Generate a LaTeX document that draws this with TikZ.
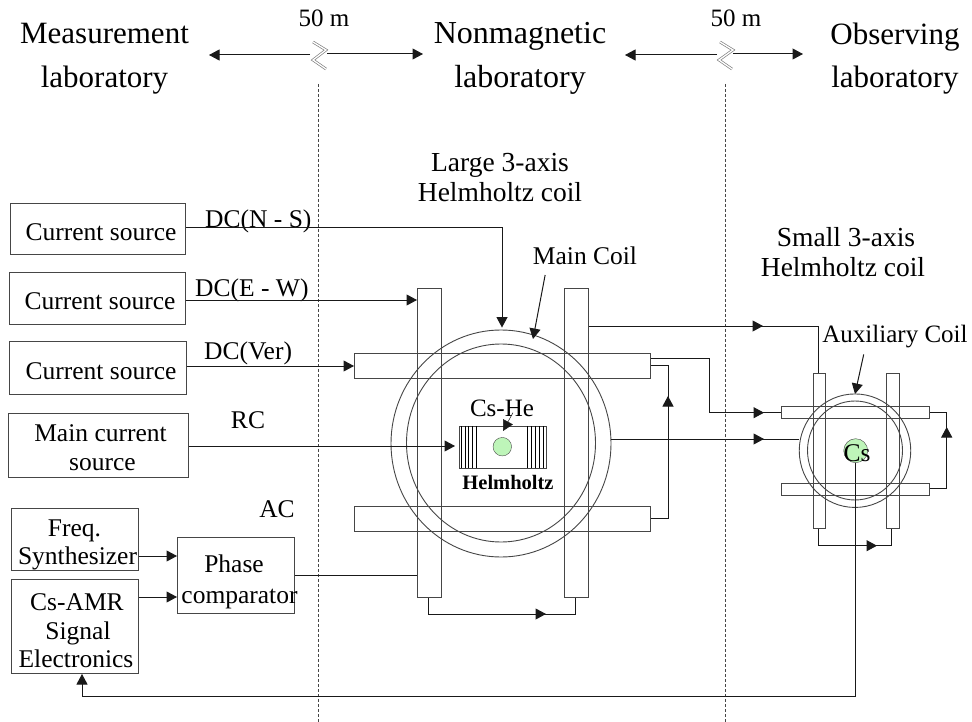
\documentclass[tikz,border=0pt]{standalone}
\usepackage{fontspec}
\setmainfont{Liberation Serif}
\usetikzlibrary{arrows.meta, positioning, shapes.geometric, calc}
\definecolor{linegray}{RGB}{70, 70, 70}
\definecolor{cellgreen}{RGB}{190, 245, 185}
\newcommand{\nudge}[2]{\hspace*{#1}\rule{0pt}{\dimexpr 17.5pt+#2\relax}}
\tikzset{
  x=1pt, y=-1pt,
  box/.style={draw=linegray, line width=1pt, inner sep=0pt, anchor=north west, align=center, font=\fontsize{25.5}{28.5}\selectfont},
  bar/.style={draw=linegray, line width=1pt, inner sep=0pt, anchor=north west},
  coil/.style={ellipse, draw=linegray, line width=0.9pt, inner sep=0pt},
  lbl/.style={inner sep=0pt, align=center, font=\fontsize{25.5}{30}\selectfont},
  biglbl/.style={inner sep=0pt, align=center, font=\fontsize{27.5}{30}\selectfont},
  head/.style={inner sep=0pt, align=center, font=\fontsize{31}{43.5}\selectfont},
  arr/.style={-{Triangle[length=10.5pt, width=11pt]}, line width=1pt, black!90},
  wire/.style={line width=1pt, black!90},
  sep/.style={densely dashed, line width=0.9pt, linegray},
  brk/.style={draw=gray, double=white, double distance=1.3pt, line width=0.7pt}
}
\begin{document}
\begin{tikzpicture}
  \useasboundingbox (0,0) rectangle (972,722);
  % headers
  \node[head] (meas) at (104.5,58.5) {Measurement\\laboratory};
  \node[head, font=\fontsize{32}{43.5}\selectfont] (nonm) at (520,58.5) {Nonmagnetic\\laboratory};
  \node[head] (obs) at (895,58.5) {Observing\\laboratory};
  \node[lbl, font=\fontsize{25}{30}\selectfont] (d1) at (324,18.5) {50 m};
  \node[lbl, font=\fontsize{25}{30}\selectfont] (d2) at (736,18.5) {50 m};
  % separators
  \coordinate (s1a) at (318.7,84); \coordinate (s1b) at (318.7,722);
  \coordinate (s2a) at (725,84); \coordinate (s2b) at (725,722);
  \draw[sep] (s1a) -- (s1b);
  \draw[sep] (s2a) -- (s2b);
  % distance arrows
  \coordinate (m1) at (310,55); \coordinate (m1l) at (209,55);
  \coordinate (m2) at (327,54); \coordinate (m2r) at (423,54);
  \coordinate (m3) at (717,55); \coordinate (m3l) at (625,55);
  \coordinate (m4) at (733,54); \coordinate (m4r) at (803,54);
  \draw[arr] (m1) -- (m1l);
  \draw[arr] (m2) -- (m2r);
  \draw[arr] (m3) -- (m3l);
  \draw[arr] (m4) -- (m4r);
  \draw[brk] (313,42) -- (326,50) -- (313,60) -- (326,69);
  \draw[brk] (720,42) -- (733,50) -- (719,60) -- (732,69);
  % sources
  \node[box, minimum width=175, minimum height=51] (cs1) at (10,203) {\nudge{6pt}{6pt}Current source};
  \node[box, minimum width=176, minimum height=52] (cs2) at (8.5,272) {\nudge{6pt}{4pt}Current source};
  \node[box, minimum width=177, minimum height=53] (cs3) at (8.5,341) {\nudge{7pt}{5pt}Current source};
  \node[box, minimum width=180, minimum height=64] (mcs) at (7.5,413) {\nudge{5pt}{4pt}Main current\\\hspace*{9pt}source};
  \node[box, minimum width=127, minimum height=62] (fs) at (10.5,508) {\nudge{0pt}{10pt}Freq.\\\hspace*{6pt}Synthesizer};
  \node[box, minimum width=127, minimum height=94] (amr) at (10.5,579) {\nudge{5pt}{8pt}Cs-AMR\\\hspace*{7pt}Signal\\\hspace*{3pt}Electronics};
  \node[box, minimum width=117, minimum height=76] (pc) at (177,537) {\nudge{-4pt}{13pt}Phase\\[3pt]\makebox[100pt]{\hspace*{7pt}comparator}};
  % large coil
  \node[coil, minimum width=220, minimum height=227] (lo) at (501,443.5) {};
  \node[coil, minimum width=189, minimum height=198] (li) at (501,443) {};
  \node[bar, minimum width=24, minimum height=309] (lv1) at (417,288) {};
  \node[bar, minimum width=24, minimum height=309] (lv2) at (564,288) {};
  \node[bar, minimum width=296, minimum height=25] (lh1) at (354,353) {};
  \node[bar, minimum width=296, minimum height=25] (lh2) at (354,506) {};
  % cell
  \node[bar, minimum width=87, minimum height=42] (hh) at (459,426) {};
  \foreach \xs in {461,465,468,472,476,527,531,535,539,543}
    \draw[line width=0.7pt] (\xs,426) -- (\xs,468);
  \node[circle, draw=linegray, fill=cellgreen, minimum size=18.5, inner sep=0pt] (cell) at (502.3,446.7) {};
  \node[lbl, font=\fontsize{25}{30}\selectfont] (cshe) at (502,408) {Cs-He};
  \node[inner sep=0pt, font=\fontsize{20.5}{22}\selectfont\bfseries] (hlbl) at (508,482) {Helmholtz};
  \draw[arr, line width=0.5pt] ($(cshe.south)+(11,-4)$) -- (503,431);
  % small coil
  \node[coil, minimum width=111.5, minimum height=113.5] (so) at (855,450.7) {};
  \node[coil, minimum width=95, minimum height=99] (si) at (855,450.5) {};
  \node[bar, minimum width=12.5, minimum height=155] (sv1) at (812.7,373) {};
  \node[bar, minimum width=12.5, minimum height=155] (sv2) at (886,373) {};
  \node[bar, minimum width=148.5, minimum height=12.5] (sh1) at (780.7,405.7) {};
  \node[bar, minimum width=148.5, minimum height=12] (sh2) at (780.7,482.7) {};
  \node[circle, draw=linegray, fill=cellgreen, minimum size=24, inner sep=0pt] (scell) at (855.7,450.7) {};
  \node[lbl] (cs) at (857,453) {Cs};
  % labels
  \node[biglbl] (lhc) at (500,178) {Large 3-axis\\Helmholtz coil};
  \node[biglbl] (shc) at (843,252) {\hspace*{6pt}Small 3-axis\\Helmholtz coil};
  \node[lbl] (mc) at (585,256) {Main Coil};
  \node[lbl, font=\fontsize{25}{30}\selectfont] (ac) at (895,337) {Auxiliary Coil};
  \node[lbl, anchor=west] (dc1) at (205,221) {DC(N - S)};
  \node[lbl, anchor=west] (dc2) at (195,290) {DC(E - W)};
  \node[lbl, anchor=west] (dc3) at (204,353) {DC(Ver)};
  \node[lbl] (rc) at (248,420) {RC};
  \node[lbl] (acl) at (277,509) {AC};
  % wires
  \draw[arr, shorten >=2pt] (cs1.east |- 0,228) -- (502,228) -- (lo.north -| 502,0);
  \draw[arr] (cs2.east |- 0,300) -- (lv1.west |- 0,300);
  \draw[arr] (cs3.east |- 0,366) -- (lh1.west |- 0,366);
  \draw[arr, shorten >=4pt] (mcs.east |- 0,446) -- (hh.west |- 0,446);
  \draw[wire] (pc.east |- 0,575) -- (lv1.west |- 0,575);
  \draw[arr] (fs.east |- 0,556) -- (pc.west |- 0,556);
  \draw[arr] (amr.east |- 0,597) -- (pc.west |- 0,597);
  \draw[arr, shorten <=10pt] (mc.south -| 547,0) -- (533,339);
  \draw[arr, shorten <=6pt] (ac.south -| 865,0) -- (855,394);
  % links on the large coil
  \draw[wire] (lv1.south -| 428,0) -- (428,614) -- (575.7,614) -- (lv2.south -| 575.7,0);
  \draw[arr] (428,614) -- (546,614);
  \draw[wire] (lh2.east |- 0,518) -- (668,518) -- (668,365) -- (lh1.east |- 0,365);
  \draw[arr] (668,518) -- (668,396);
  % links to the small coil
  \draw[wire] (lv2.east |- 0,326) -- (818,326) -- (sv1.north -| 818,0);
  \draw[arr] (lv2.east |- 0,326) -- (763,326);
  \draw[wire] (lh1.east |- 0,358) -- (709.3,358) -- (709.3,412.7) -- (sh1.west |- 0,412.7);
  \draw[arr] (709.3,412.7) -- (764,412.7);
  \draw[wire] (lo.east |- 0,439) -- (so.west |- 0,439);
  \draw[arr] (lo.east |- 0,439) -- (764,439);
  % links on the small coil
  \draw[wire] (sh1.east |- 0,412.7) -- (946.7,412.7) -- (946.7,488.7) -- (sh2.east |- 0,488.7);
  \draw[arr] (946.7,488.7) -- (946.7,427);
  \draw[wire] (sv1.south -| 818,0) -- (818,545.7) -- (891,545.7) -- (sv2.south -| 891,0);
  \draw[arr] (818,545.7) -- (877,545.7);
  % feedback
  \draw[arr] (scell.south -| 855.5,0) -- (855.5,696.7) -- (82,696.7) -- (amr.south -| 82,0);
\end{tikzpicture}
\end{document}
